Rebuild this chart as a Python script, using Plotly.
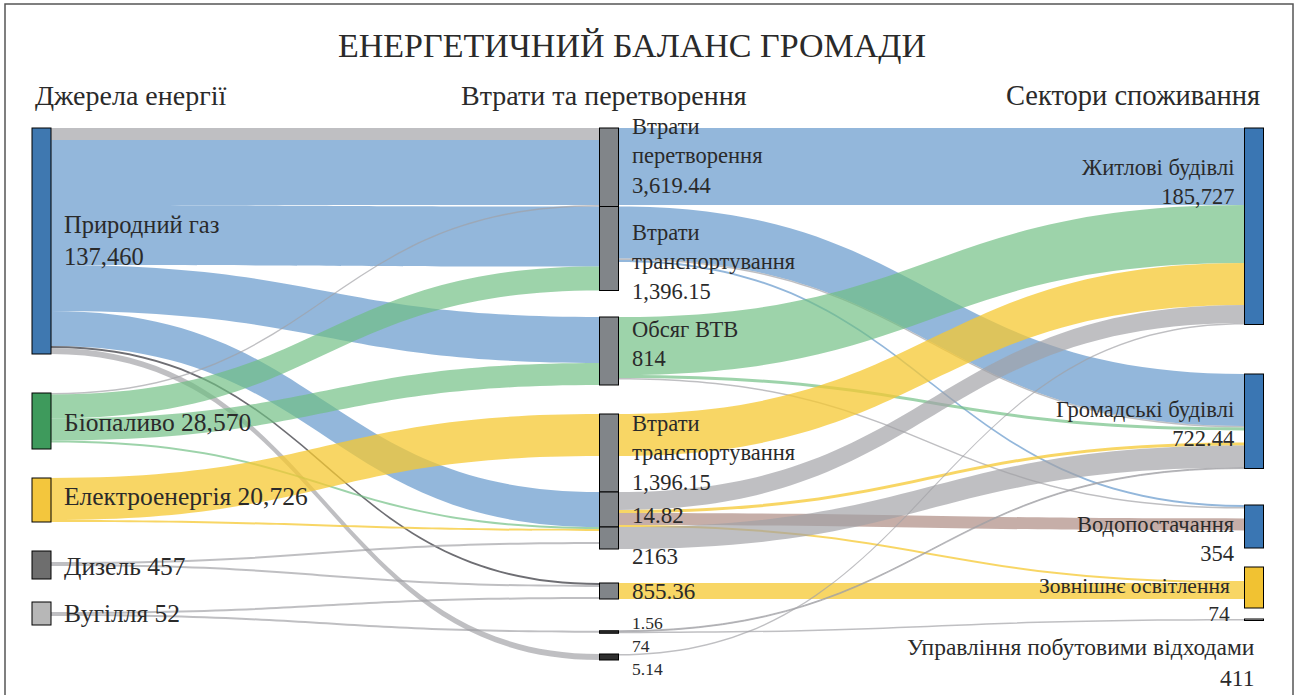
import plotly.graph_objects as go

# ---- data -------------------------------------------------------------
# nodes: 0-4 sources, 5-13 losses / conversion, 14-18 consumption sectors, 19 spacer
node_names = [
    'Природний газ', 'Біопаливо', 'Електроенергія', 'Дизель', 'Вугілля',
    'Втрати перетворення', 'Втрати транспортування', 'Обсяг ВТВ',
    'Втрати транспортування', '14.82', '2163', '855.36', '1.56', '5.14',
    'Житлові будівлі', 'Громадські будівлі', 'Водопостачання',
    'Зовнішнє освітлення', 'Управління побутовими відходами', '',
]

# visible flows (widths)
link_src = [0, 0, 0, 0, 0, 0, 0, 1, 1, 1, 1, 2, 2, 3, 3, 4, 4,
            5, 6, 6, 6, 7, 7, 7, 8, 9, 9, 9, 9, 10, 11, 12, 12, 13]
link_tgt = [5, 5, 6, 7, 9, 11, 13, 5, 6, 7, 10, 8, 10, 10, 11, 11, 12,
            14, 15, 15, 16, 14, 15, 16, 14, 14, 15, 16, 17, 15, 17, 18, 15, 14]
link_val = [12, 65, 60, 46, 35, 2, 6, 1.5, 24, 22, 2, 42, 2, 2, 2, 2, 2,
            77, 52, 1.5, 2, 58, 3, 1.5, 42, 18, 3, 12, 2, 22, 16, 1.5, 1, 1.5]
link_kind = ['grey', 'blue', 'blue', 'blue', 'blue', 'dark', 'grey', 'grey',
             'green', 'green', 'green', 'yellow', 'yellow', 'grey', 'grey', 'grey', 'grey',
             'blue', 'blue', 'grey', 'blue', 'green', 'green', 'grey', 'yellow',
             'grey', 'yellow', 'brown', 'yellow', 'grey', 'yellow', 'grey', 'grey', 'grey']

# invisible spacer flows, only there to give the bars their drawn height
spacer_src = [3, 4, 1, 3, 4, 8, 8, 8, 19, 19]
spacer_tgt = [10, 11, 19, 19, 19, 15, 16, 17, 16, 17]
spacer_val = [11, 10, 6.5, 13, 9, 12, 10, 14, 17.5, 9]

# label texts: (text, centre y in px, font size)
left_labels = [('Природний газ<br>137,460', 240, 24.5), ('Біопаливо 28,570', 422, 25.5),
               ('Електроенергія 20,726', 497, 25.5), ('Дизель 457', 566, 25.5),
               ('Вугілля 52', 613, 25.5)]
mid_labels = [('Втрати<br>перетворення<br>3,619.44', 155.5, 22.5),
              ('Втрати<br>транспортування<br>1,396.15', 262, 22.5),
              ('Обсяг ВТВ<br>814', 344, 22.5),
              ('Втрати<br>транспортування<br>1,396.15', 453, 22.5),
              ('14.82', 515, 23), ('2163', 556, 23), ('855.36', 591, 23),
              ('1.56<br>74<br>5.14', 646, 17.5)]
right_labels = [('Житлові будівлі<br>185,727', 182, 1236, 22.5),
                ('Громадські будівлі<br>722.44', 423.5, 1236, 22.5),
                ('Водопостачання<br>354', 539, 1236, 22.5),
                ('Зовнішнє освітлення<br>74', 599.5, 1232, 21.5),
                ('Управління побутовими відходами<br>411', 662, 1257, 23.5)]

# ---- layout geometry (page pixels) -------------------------------------
W_PAGE, H_PAGE = 1299, 695
L, R, T, B = 20, 20, 120, 20
W = W_PAGE - L - R
H = H_PAGE - T - B

node_col_x = [41.5] * 5 + [609] * 9 + [1254] * 5 + [609]
node_top = [128, 393, 478, 551, 602,
            128, 206.5, 317, 414, 492, 527, 583, 630.75, 654,
            128, 374, 505, 567, 619,
            710]

colors = {
    'blue': 'rgba(105,155,205,0.72)',
    'green': 'rgba(110,190,130,0.68)',
    'yellow': 'rgba(245,200,50,0.75)',
    'grey': 'rgba(160,160,165,0.68)',
    'dark': 'rgba(85,85,90,0.85)',
    'brown': 'rgba(160,120,110,0.6)',
}
node_colors = ['#3f78b0', '#3e9a5c', '#f3c63d', '#6e6e6e', '#b7b7b7'] + \
              ['#818589'] * 7 + ['#2f2f2f', '#2f2f2f'] + \
              ['#3a76b3', '#3a76b3', '#3a76b3', '#f1c232', 'rgba(170,170,175,0.6)'] + \
              ['rgba(0,0,0,0)']
node_line_w = [0, 0, 1, 0, 1] + [0] * 9 + [0, 0, 0, 1, 0] + [0]
node_line_c = ['#444', '#444', '#b8922a', '#444', '#888'] + ['#444'] * 9 + \
              ['#444', '#444', '#444', '#a98400', '#444'] + ['rgba(0,0,0,0)']

src = spacer_src + link_src
tgt = spacer_tgt + link_tgt
val = spacer_val + link_val
lcol = ['rgba(0,0,0,0)'] * len(spacer_val) + [colors[k] for k in link_kind]

# node heights = max(in, out); make the middle column fill the height exactly (1 unit = 1 px)
n_nodes = len(node_names)
out_sum = [0.0] * n_nodes
in_sum = [0.0] * n_nodes
for s, t, v in zip(src, tgt, val):
    out_sum[s] += v
    in_sum[t] += v
node_val = [max(a, b) for a, b in zip(in_sum, out_sum)]
mid = [i for i in range(n_nodes) if node_col_x[i] == 609]
pad = (H - sum(node_val[i] for i in mid)) / (len(mid) - 1)

node_x = [(x - L) / W for x in node_col_x]
node_y = [(top + node_val[i] / 2 - T) / H for i, top in enumerate(node_top)]


def px(x):
    return (x - L) / W


def py(y):
    return 1 - (y - T) / H


fig = go.Figure(go.Sankey(
    arrangement='fixed',
    node=dict(
        label=[''] * n_nodes,
        x=node_x, y=node_y,
        pad=pad, thickness=19,
        color=node_colors,
        line=dict(width=node_line_w, color=node_line_c),
        hoverinfo='none',
    ),
    link=dict(source=src, target=tgt, value=val, color=lcol, hoverinfo='none'),
))

FONT = 'Liberation Serif, Times New Roman, DejaVu Serif, serif'
TXT = '#2a2a2a'
ann = []
ann.append(dict(text='ЕНЕРГЕТИЧНИЙ БАЛАНС ГРОМАДИ', x=px(632), y=py(45),
                xanchor='center', yanchor='middle', font=dict(size=34)))
ann.append(dict(text='Джерела енергії', x=px(33), y=py(95), xanchor='left',
                yanchor='middle', font=dict(size=28)))
ann.append(dict(text='Втрати та перетворення', x=px(459), y=py(95), xanchor='left',
                yanchor='middle', font=dict(size=28)))
ann.append(dict(text='Сектори споживання', x=px(1262), y=py(95), xanchor='right',
                yanchor='middle', font=dict(size=28.5)))
for text, y, s in left_labels:
    ann.append(dict(text=text, x=px(62), y=py(y), xanchor='left', align='left',
                    yanchor='middle', font=dict(size=s)))
for text, y, s in mid_labels:
    ann.append(dict(text=text, x=px(630), y=py(y), xanchor='left', align='left',
                    yanchor='middle', font=dict(size=s)))
for text, y, x, s in right_labels:
    ann.append(dict(text=text, x=px(x), y=py(y), xanchor='right', align='right',
                    yanchor='middle', font=dict(size=s)))
for a in ann:
    a.update(xref='paper', yref='paper', showarrow=False)
    a['font'].update(family=FONT, color=TXT)

fig.update_layout(
    width=W_PAGE, height=H_PAGE,
    margin=dict(l=L, r=R, t=T, b=B),
    paper_bgcolor='white', plot_bgcolor='white',
    annotations=ann,
    shapes=[dict(type='rect', xref='paper', yref='paper',
                 x0=px(5), x1=px(1293), y0=py(700), y1=py(4),
                 line=dict(color='#555', width=1.5))],
)

fig.write_html('out.html', config={'displayModeBar': False},
               post_script="document.body.style.margin = '0';")
